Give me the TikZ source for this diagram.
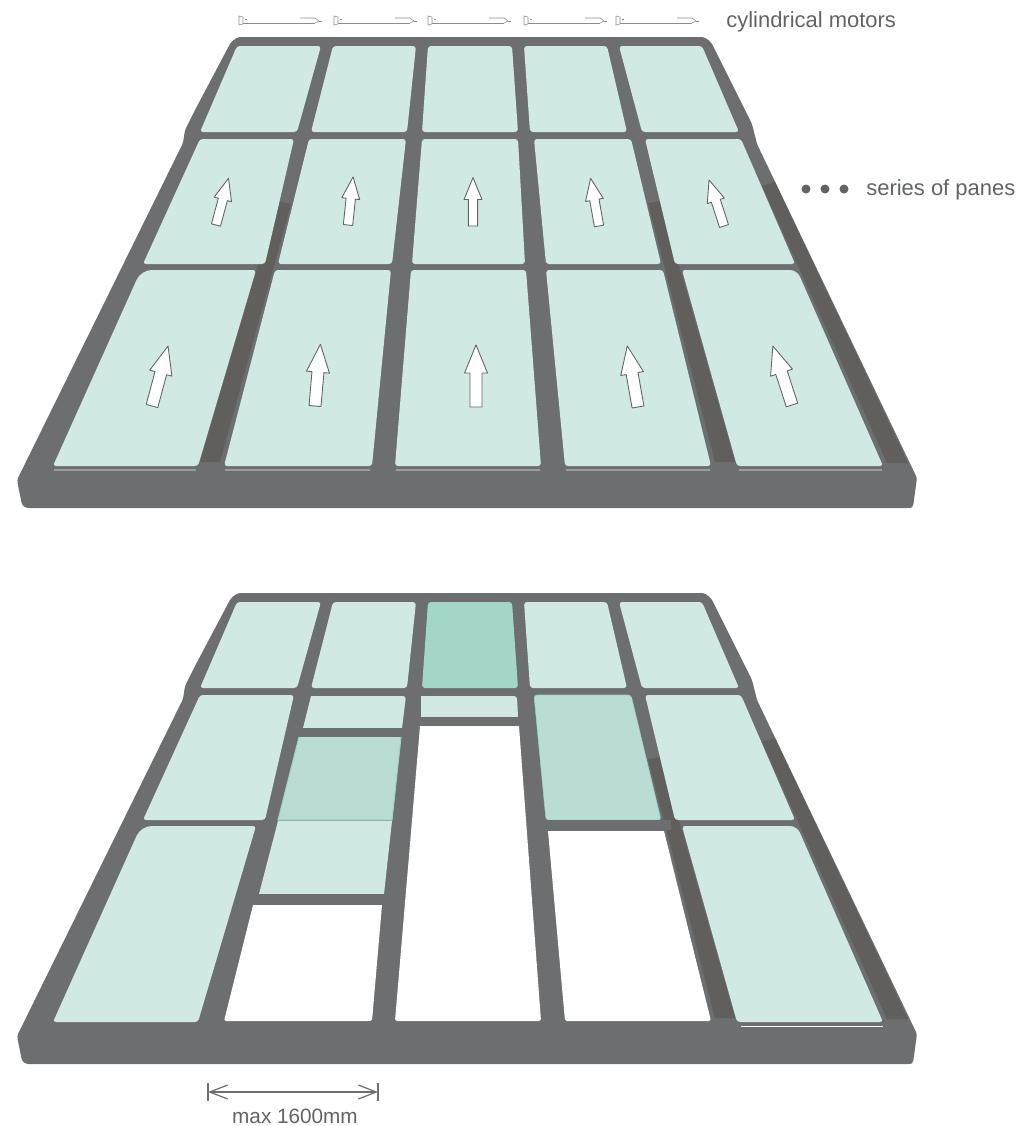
\documentclass[tikz,border=0pt]{standalone}
\usepackage{fontspec}
\setmainfont{Liberation Sans}
\usepackage{xcolor}
\usetikzlibrary{arrows.meta,positioning}

\definecolor{framegrey}{HTML}{6D6E70}
\definecolor{shadegrey}{HTML}{605F5D}
\definecolor{edgegrey}{HTML}{9C9D9F}
\definecolor{textgrey}{HTML}{626365}
\definecolor{panelight}{HTML}{D0E9E2}
\definecolor{panemid}{HTML}{B9DDD5}
\definecolor{panedark}{HTML}{A3D5C8}
\definecolor{paneedge}{HTML}{9AD3C7}

\newcommand{\frameoutline}{%
    \fill[framebody]
    (238,37) -- (704,37) -- (711,42) -- (752,124) -- (757,144)
    -- (917,478) -- (913,507) -- (910,508) -- (26,508) -- (22,505)
    -- (17,480) -- (183,143) -- (185,130) -- (195,110) -- (231,42) -- cycle;
    % right side and mullion in shadow
    \fill[frameshade] (762,186) -- (775,182) -- (908,463) -- (887,463) -- cycle;
    \fill[frameshade] (648,203) -- (661,201) -- (735,462) -- (715,462) -- cycle;
}

\begin{document}
\begin{tikzpicture}[
    x=0.02cm,
    y=-0.02cm,
    framebody/.style={
        fill=framegrey,
        rounded corners=1.5pt
    },
    frameshade/.style={
        fill=shadegrey
    },
    pane/.style={
        fill=panelight,
        rounded corners=1.7pt
    },
    midpane/.style={
        fill=panemid,
        draw=paneedge,
        line width=0.3pt,
        rounded corners=1.7pt
    },
    darkpane/.style={
        fill=panedark,
        rounded corners=1.7pt
    },
    opening/.style={
        fill=white
    },
    panearrow/.style={
        draw=textgrey,
        fill=white,
        line width=0.5pt,
        line join=round
    },
    motorline/.style={
        draw=black!45,
        line width=0.3pt
    },
    label/.style={
        text=textgrey,
        inner sep=0pt,
        font=\fontsize{12.5pt}{15pt}\selectfont
    },
    dimension/.style={
        draw=framegrey,
        line width=0.7pt
    }
]

\useasboundingbox (0,0) rectangle (1018,1126);

% =========================
% Top roof, closed
% =========================

\frameoutline
\fill[frameshade] (277,201) -- (291,204) -- (220,462) -- (200,462) -- cycle;

% first row
\fill[pane] (237,46) -- (321,46) -- (297,132) -- (200,132) -- cycle;
\fill[pane] (333,46) -- (416,46) -- (407,132) -- (311,132) -- cycle;
\fill[pane] (428,46) -- (512,46) -- (518,132) -- (422,132) -- cycle;
\fill[pane] (524,46) -- (607,46) -- (627,132) -- (530,132) -- cycle;
\fill[pane] (619,46) -- (702,46) -- (739,132) -- (642,132) -- cycle;

% second row
\fill[pane] (200,139) -- (294,139) -- (265,264) -- (143,264) -- cycle;
\fill[pane] (309,139) -- (406,139) -- (392,264) -- (278,264) -- cycle;
\fill[pane] (422,139) -- (518,139) -- (525,264) -- (412,264) -- cycle;
\fill[pane] (534,139) -- (631,139) -- (661,264) -- (546,264) -- cycle;
\fill[pane] (645,139) -- (741,139) -- (795,264) -- (675,264) -- cycle;

% third row
\fill[pane] (200,270) [rounded corners=6pt] -- (141,270) [rounded corners=1.7pt] -- (53,466) -- (198,466) -- (256,270) -- cycle;
\fill[pane] (275,270) -- (391,270) -- (372,466) -- (224,466) -- cycle;
\fill[pane] (411,270) -- (526,270) -- (541,466) -- (395,466) -- cycle;
\fill[pane] (546,270) -- (663,270) -- (711,466) -- (565,466) -- cycle;
\fill[pane] (682,270) -- (740,270) [rounded corners=4pt] -- (797,270) [rounded corners=1.7pt] -- (883,466) -- (737,466) -- cycle;

% light edge below the third row
\foreach \ex/\ey in {54/196, 225/370, 396/540, 566/710, 739/882}
    \draw[edgegrey, line width=0.7pt] (\ex,470) -- (\ey,470);

% opening direction of the panes
\foreach \ax/\ay/\arot/\ascale in {
    216/225/-15/0.78, 348/225/-6/0.78, 473/226/0/0.78, 599/226/10/0.78, 724/226/18/0.78,
    152/406/-15/1, 315/406/-5/1, 476/407/0/1, 638/407/10/1, 792/405/18/1}
    \draw[panearrow, shift={(\ax,\ay)}, rotate=\arot, scale=\ascale]
    (-6,0) -- (6,0) -- (6,-34) -- (11.5,-34) -- (0,-62) -- (-11.5,-34) -- (-6,-34) -- cycle;

% =========================
% Motors and labels
% =========================

\foreach \mx in {238,333,427,523,615} {
    \draw[motorline] (\mx+5,23) -- (\mx+77,23);
    \draw[motorline] (\mx+62,18) -- (\mx+77,18) -- (\mx+81,21) -- (\mx+77,23);
    \draw[motorline] (\mx+81,21) -- (\mx+84,21);
    \draw[motorline] (\mx+1,16) -- (\mx+5,17) -- (\mx+5,24) -- (\mx+1,25) -- cycle;
    \draw[motorline] (\mx+7,19) -- (\mx+9,19);
}

\node[label, anchor=west] (motorlabel) at (726,22) {cylindrical motors};

\foreach \dx in {806,825,844}
    \fill[textgrey] (\dx,189) circle (4.5);

\node[label, anchor=west] (panelabel) at (866,190) {series of panes};

% =========================
% Bottom roof, partly open
% =========================

\begin{scope}[shift={(0,556)}]

\frameoutline

% first row
\fill[pane] (237,46) -- (321,46) -- (297,132) -- (200,132) -- cycle;
\fill[pane] (333,46) -- (416,46) -- (407,132) -- (311,132) -- cycle;
\fill[darkpane] (428,46) -- (512,46) -- (518,132) -- (422,132) -- cycle;
\fill[pane] (524,46) -- (607,46) -- (627,132) -- (530,132) -- cycle;
\fill[pane] (619,46) -- (702,46) -- (739,132) -- (642,132) -- cycle;

% second row
\fill[pane] (200,139) -- (294,139) -- (265,264) -- (143,264) -- cycle;
\fill[pane] (645,139) -- (741,139) -- (795,264) -- (675,264) -- cycle;
\filldraw[midpane] (534,139) -- (631,139) -- (661,264) -- (546,264) -- cycle;

% third row
\fill[pane] (200,270) [rounded corners=6pt] -- (141,270) [rounded corners=1.7pt] -- (53,466) -- (198,466) -- (256,270) -- cycle;
\fill[pane] (682,270) -- (740,270) [rounded corners=4pt] -- (797,270) [rounded corners=1.7pt] -- (883,466) -- (737,466) -- cycle;
\draw[white, line width=0.5pt] (741,470) -- (883,470);

% second column, sliding pane half way
\fill[pane] (311,140) -- (406,140) [sharp corners] -- (402,172) -- (303,172) -- cycle;
\fill[framegrey] (298,172) -- (410,172) -- (410,181) -- (296,181) -- cycle;
\fill[panemid] (299,181) -- (401,181) -- (392,264) -- (278,264) -- cycle;
\draw[paneedge, line width=0.6pt] (299,181) -- (278,264) -- (392,264) -- (401,181);
\fill[panelight] (278,265) -- (392,265) -- (384,338) -- (259,338) -- cycle;
\fill[framegrey] (258,338) -- (392,338) -- (392,348) -- (255,348) -- cycle;
\fill[opening] (253,349) -- (382,349) [rounded corners=1pt] -- (372,465) -- (224,465) [sharp corners] -- cycle;

% third column, pane almost at the top
\fill[pane] (421,140) -- (517,140) [sharp corners] -- (518,161) -- (421,161) -- cycle;
\fill[framegrey] (420,161) -- (523,161) -- (523,170) -- (419,170) -- cycle;
\fill[opening] (420,170) -- (519,170) [rounded corners=1pt] -- (541,465) -- (395,465) [sharp corners] -- cycle;

% fourth column, sliding pane above the opening
\fill[framegrey] (533,264) -- (671,264) -- (671,274) -- (533,274) -- cycle;
\fill[opening] (548,275) -- (664,275) [rounded corners=1pt] -- (711,465) -- (565,465) [sharp corners] -- cycle;

% =========================
% Width of an opening
% =========================

\coordinate (dimleft) at (208,536);
\coordinate (dimright) at (378,536);

\draw[dimension, {Straight Barb[length=3.6mm,width=2.8mm]}-{Straight Barb[length=3.6mm,width=2.8mm]}]
(dimleft) -- (dimright);
\draw[dimension] (208,527) -- (208,545);
\draw[dimension] (378,527) -- (378,545);

\node[label, font=\fontsize{11.8pt}{14pt}\selectfont, anchor=center] (widthlabel) at (295,560) {max 1600mm};

\end{scope}

\end{tikzpicture}
\end{document}
